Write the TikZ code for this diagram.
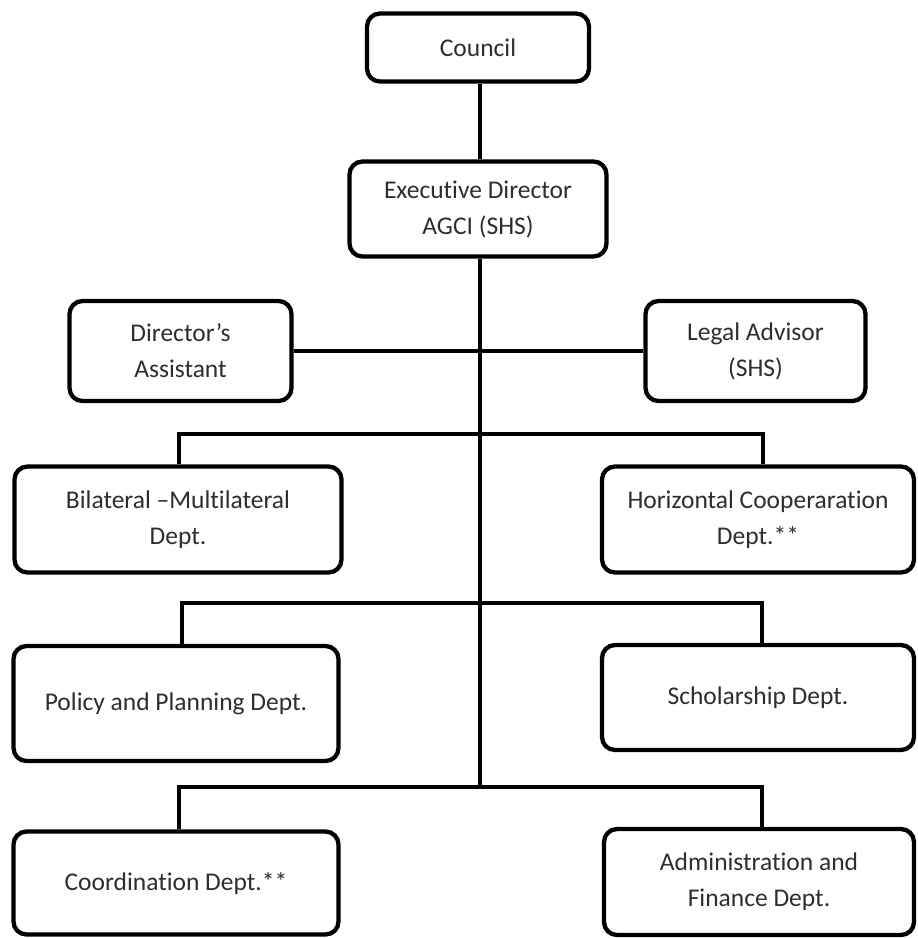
\documentclass[tikz,border=0pt]{standalone}
\usepackage{fontspec}
\setmainfont{Carlito}[Ligatures={NoCommon}]
\begin{document}
\begin{tikzpicture}[x=1pt,y=-1pt,
  box/.style={draw=black, line width=4.3pt, rounded corners=13pt, fill=white,
    inner sep=0pt, align=center, text=black!82,
    font=\fontsize{25.5}{36}\selectfont},
  link/.style={line width=4.3pt, draw=black}]
\useasboundingbox (0,0) rectangle (918,938);
% boxes
\node[box, minimum width=222, minimum height=68] (council) at (478,47.5) {Council};
\node[box, minimum width=257, minimum height=95] (exec) at (478,209) {Executive Director\\AGCI (SHS)};
\node[box, minimum width=222, minimum height=100] (assist) at (180.5,351) {Director’s\\Assistant};
\node[box, minimum width=220, minimum height=100] (legal) at (755.5,351) {Legal Advisor\\(SHS)};
\node[box, minimum width=327, minimum height=106] (bil) at (178,519.5) {Bilateral –Multilateral\\Dept.};
\node[box, minimum width=312, minimum height=106] (hor) at (758,519.5) {Horizontal Cooperaration\\Dept.**};
\node[box, minimum width=325, minimum height=115] (pol) at (176,703.5) {Policy and Planning Dept.};
\node[box, minimum width=312, minimum height=105] (sch) at (758,697.5) {Scholarship Dept.};
\node[box, minimum width=325, minimum height=103] (coo) at (176,883) {Coordination Dept.**};
\node[box, minimum width=310, minimum height=106] (adm) at (759,882) {Administration and\\Finance Dept.};
% junction points
\coordinate (spineEnd) at (480,787);
\coordinate (b1l) at (179,434);
\coordinate (b1r) at (763,434);
\coordinate (b2l) at (182,603);
\coordinate (b2r) at (762,603);
\coordinate (b3l) at (179,787);
\coordinate (b3r) at (762,787);
% connectors
\draw[link] (council.south -| spineEnd) -- (exec.north -| spineEnd);
\draw[link] (exec.south -| spineEnd) -- (spineEnd);
\draw[link] (assist.east) -- (legal.west);
\draw[link] (bil.north -| b1l) -- (b1l) -- (b1r) -- (hor.north -| b1r);
\draw[link] (pol.north -| b2l) -- (b2l) -- (b2r) -- (sch.north -| b2r);
\draw[link] (coo.north -| b3l) -- (b3l) -- (b3r) -- (adm.north -| b3r);
\end{tikzpicture}
\end{document}
